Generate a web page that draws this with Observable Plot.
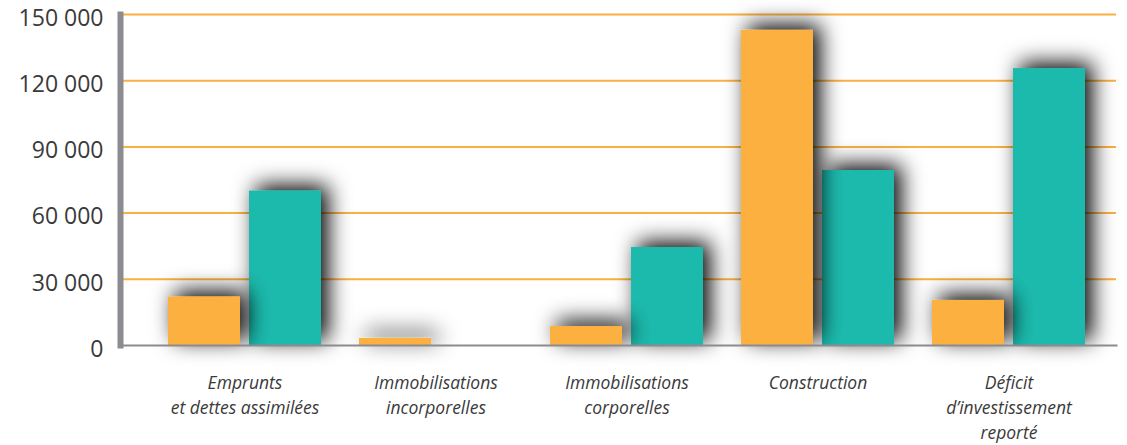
<!DOCTYPE html>
<html>
<head>
<meta charset="utf-8">
<script src="https://cdn.jsdelivr.net/npm/d3@7"></script>
<script src="https://cdn.jsdelivr.net/npm/@observablehq/plot@0.6"></script>
<style>
  html, body { margin: 0; padding: 0; background: #ffffff; }
</style>
</head>
<body>
<div id="chart"></div>
<script>
const categories = [
  "Emprunts\net dettes assimilées",
  "Immobilisations\nincorporelles",
  "Immobilisations\ncorporelles",
  "Construction",
  "Déficit\nd’investissement\nreporté"
];
const serieOrange = [22000, 3200, 8600, 142800, 20400];
const serieTeal = [70000, 0, 44400, 79300, 125500];
const yTicks = [0, 30000, 60000, 90000, 120000, 150000];
const gridValues = [30000, 60000, 90000, 120000, 150000];

const rows = categories.map((c, i) => ({cat: c, orange: serieOrange[i], teal: serieTeal[i]}));
const fmt = d3.formatLocale({decimal: ",", thousands: "\u00a0", grouping: [3], currency: ["", ""]}).format(",d");

const chart = Plot.plot({
  width: 1127,
  height: 445,
  marginLeft: 120,
  marginRight: 11,
  marginTop: 14,
  marginBottom: 100,
  style: {fontFamily: "'Open Sans', sans-serif", color: "#3a3a3a", background: "#ffffff"},
  x: {domain: categories, range: [148, 1104], paddingInner: 0.2, paddingOuter: 0.1, label: null},
  y: {domain: [0, 150000], label: null},
  marks: [
    Plot.ruleY(gridValues, {stroke: "#f9b040", strokeWidth: 2}),
    Plot.barY(rows, {x: "cat", y: "teal", fill: "#1dbaad", insetLeft: 81}),
    Plot.barY(rows, {x: "cat", y: "orange", fill: "#fbb040", insetRight: 81}),
    Plot.frame({anchor: "bottom", stroke: "#8c8c90", strokeWidth: 2}),
    Plot.frame({anchor: "left", stroke: "#8c8c90", strokeWidth: 6}),
    Plot.axisY({ticks: yTicks, tickFormat: fmt, tickSize: 0, tickPadding: 17, fontSize: 23, dy: 4, fill: "#3a3a3a", label: null}),
    Plot.axisX({tickSize: 0, tickPadding: 26, fontSize: 17.5, fontStyle: "italic", lineHeight: 1.42, fill: "#3a3a3a", label: null})
  ]
});

// drop shadow filter for bars
const ns = "http://www.w3.org/2000/svg";
const defs = document.createElementNS(ns, "defs");
defs.innerHTML = `<filter id="barShadow" filterUnits="userSpaceOnUse" x="0" y="0" width="1127" height="445">
  <feGaussianBlur in="SourceAlpha" stdDeviation="11"/>
  <feOffset dx="7" dy="-5"/>
  <feComponentTransfer><feFuncA type="linear" slope="1"/></feComponentTransfer>
  <feMerge><feMergeNode/><feMergeNode in="SourceGraphic"/></feMerge>
</filter>`;
chart.insertBefore(defs, chart.firstChild);
chart.querySelectorAll('g[aria-label="bar"]').forEach(g => g.setAttribute("filter", "url(#barShadow)"));

document.getElementById("chart").appendChild(chart);
</script>
</body>
</html>
